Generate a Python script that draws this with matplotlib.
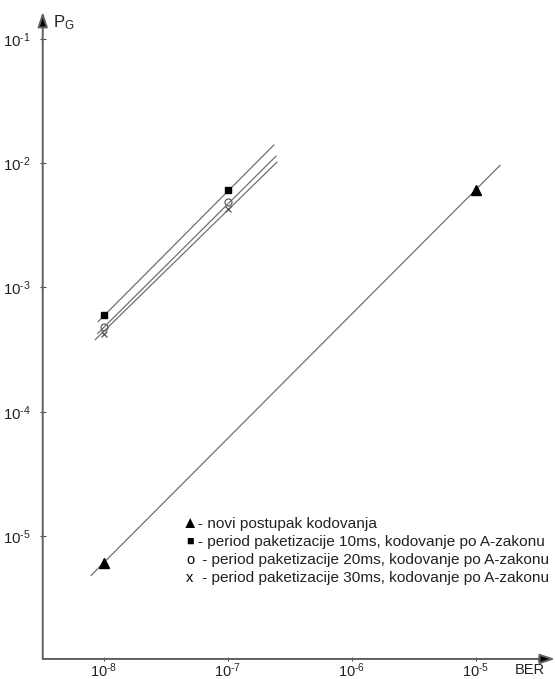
import matplotlib
matplotlib.use("Agg")
import matplotlib.pyplot as plt
from matplotlib.ticker import FixedLocator, FixedFormatter

plt.rcParams['font.family'] = ['Liberation Sans', 'DejaVu Sans']
plt.rcParams['mathtext.fontset'] = 'custom'
plt.rcParams['mathtext.rm'] = 'Liberation Sans'
plt.rcParams['mathtext.it'] = 'Liberation Sans'

######################### DATA #########################
# measured points (BER, PG)
ber_pts = [1e-8, 1e-7]
ber_new = [1e-8, 1e-5]
pg_new = [6.1e-6, 6.05e-3]      # novi postupak kodovanja
pg_10ms = [5.95e-4, 6.05e-3]    # period paketizacije 10ms
pg_20ms = [4.8e-4, 4.85e-3]     # period paketizacije 20ms
pg_30ms = [4.25e-4, 4.3e-3]     # period paketizacije 30ms

# drawn lines through the points (end points)
line_new_x = [7.85e-9, 1.56e-5]
line_new_y = [4.8e-6, 9.6e-3]
line_10_x = [8.95e-9, 2.34e-7]
line_10_y = [5.3e-4, 1.4e-2]
line_20_x = [8.9e-9, 2.44e-7]
line_20_y = [4.27e-4, 1.14e-2]
line_30_x = [8.5e-9, 2.48e-7]
line_30_y = [3.8e-4, 1.02e-2]

x_ticks = [1e-8, 1e-7, 1e-6, 1e-5, 10 ** -4.5]
x_labels = ['$10^{\\text{-}8}$', '$10^{\\text{-}7}$', '$10^{\\text{-}6}$',
            '$10^{\\text{-}5}$', '']
y_ticks = [1e-5, 1e-4, 1e-3, 1e-2, 1e-1]
y_labels = ['$10^{\\text{-}5}$', '$10^{\\text{-}4}$', '$10^{\\text{-}3}$',
            '$10^{\\text{-}2}$', '$10^{\\text{-}1}$']

legend_syms = ['\u25b2', '\u25a0', 'o', 'x']
legend_texts = [
    '- novi postupak kodovanja',
    '- period paketizacije 10ms, kodovanje po A-zakonu',
    ' - period paketizacije 20ms, kodovanje po A-zakonu',
    ' - period paketizacije 30ms, kodovanje po A-zakonu',
]

######################### PLOT #########################
line_col = '#707070'
axis_col = '#606060'

fig = plt.figure(figsize=(5.55, 6.79), dpi=100)
ax = fig.add_axes([0.077, 0.0295, 0.923, 0.953])
ax.set_xscale('log')
ax.set_yscale('log')
ax.set_xlim(10 ** -8.494, 10 ** -4.363)
ax.set_ylim(10 ** -5.99, 10 ** -0.782)

for lx, ly in [(line_new_x, line_new_y), (line_10_x, line_10_y),
               (line_20_x, line_20_y), (line_30_x, line_30_y)]:
    ax.plot(lx, ly, color=line_col, lw=0.9)

ax.plot(ber_new, pg_new, '^', color='black', ms=7.5, ls='none')
ax.plot(ber_pts, pg_10ms, 's', color='black', ms=5, ls='none')
ax.plot(ber_pts, pg_20ms, 'o', mfc='none', mec='#606060', mew=0.9, ms=5, ls='none')
ax.plot(ber_pts, pg_30ms, 'x', color='#505050', mew=0.9, ms=4, ls='none')

# axes with arrows
for s in ax.spines.values():
    s.set_visible(False)
for tip in [(1.0, 0), (0, 1.0)]:
    ax.annotate('', xy=tip, xytext=(0, 0), xycoords='axes fraction',
                arrowprops=dict(arrowstyle='-|>,head_length=0.9,head_width=0.3',
                                lw=1.4, shrinkA=0, shrinkB=0,
                                fc='black', ec=axis_col))

ax.xaxis.set_major_locator(FixedLocator(x_ticks))
ax.xaxis.set_major_formatter(FixedFormatter(x_labels))
ax.yaxis.set_major_locator(FixedLocator(y_ticks))
ax.yaxis.set_major_formatter(FixedFormatter(y_labels))
ax.minorticks_off()
ax.tick_params(direction='inout', length=5, width=0.8, color='#505050',
               labelsize=10.8, labelcolor='#222222')
ax.tick_params(axis='x', length=3, pad=0, labelsize=10.5)
ax.tick_params(axis='y', pad=6)

ax.text(0.02, 0.998, '$\\mathregular{P_G}$', transform=ax.transAxes,
        fontsize=12, ha='left', va='top', color='#222222')
ax.text(0.98, -0.007, 'BER', transform=ax.transAxes,
        fontsize=10.5, ha='right', va='top', color='#222222')

# legend as plain text lines
for i, (sym, txt) in enumerate(zip(legend_syms, legend_texts)):
    yy = 0.2087 - i * 0.0278
    ax.text(0.2875, yy, sym, transform=ax.transAxes,
            fontsize=[12, 9, 10.5, 10.5][i],
            ha='center', va='center', color='black')
    ax.text(0.3037, yy, txt, transform=ax.transAxes, fontsize=11.1,
            ha='left', va='center', color='#222222')

fig.savefig('out.png', dpi=100)
